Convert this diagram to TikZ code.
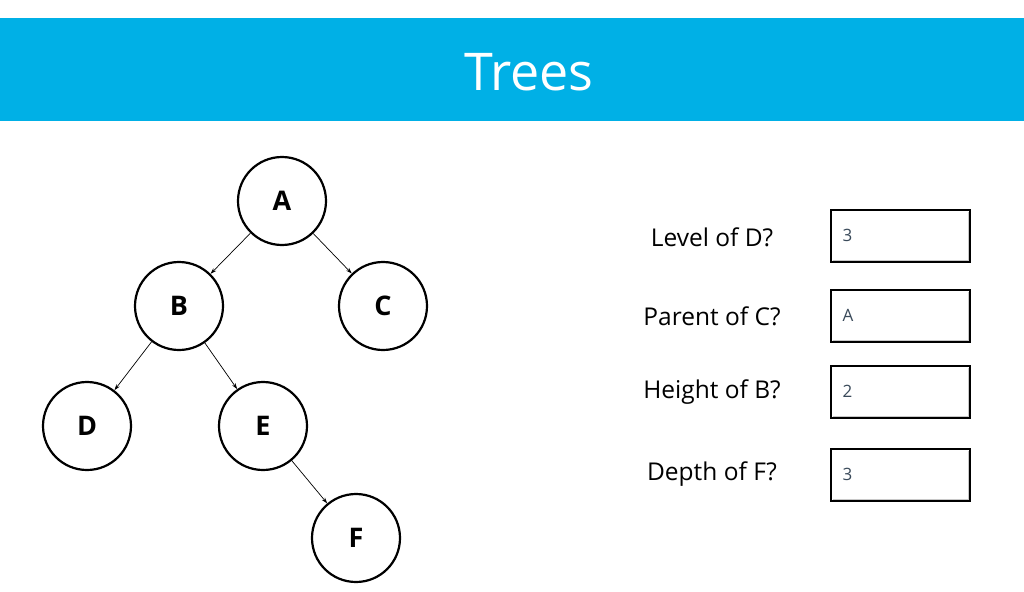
\documentclass[tikz,border=0pt]{standalone}
\usepackage{fontspec}
\setmainfont{Open Sans}
\usetikzlibrary{arrows.meta}
\definecolor{banner}{HTML}{00B0E6}
\definecolor{ansgray}{HTML}{3A4A5A}
\definecolor{insetgray}{HTML}{C8C8C8}
\begin{document}
\begin{tikzpicture}[x=1pt,y=-1pt,
  tnode/.style={circle,draw,line width=2.2pt,minimum size=88pt,inner sep=0pt,font=\fontsize{27}{30}\selectfont\bfseries},
  edge/.style={-{Stealth[length=6pt,width=4pt]},line width=0.7pt},
  qlabel/.style={font=\fontsize{24.5}{28}\selectfont,anchor=center},
  ansbox/.style={draw,line width=1.6pt,minimum width=139pt,minimum height=52pt,inner sep=0pt,anchor=north west},
  anstext/.style={font=\fontsize{17}{20}\selectfont,text=ansgray,anchor=west}]
\useasboundingbox (0,0) rectangle (1024,591);
\fill[white] (0,0) rectangle (1024,591);
\fill[banner] (0,18) rectangle (1024,121);
\node[text=white,font=\fontsize{52}{60}\selectfont] (title) at (529,72) {Trees};
% tree
\node[tnode] (A) at (282,201) {A};
\node[tnode] (B) at (179,306) {B};
\node[tnode] (C) at (383,306) {C};
\node[tnode] (D) at (87,426) {D};
\node[tnode] (E) at (263,426) {E};
\node[tnode] (F) at (356,538) {F};
\draw[edge] (A) -- (B);
\draw[edge] (A) -- (C);
\draw[edge] (B) -- (D);
\draw[edge] (B) -- (E);
\draw[edge] (E) -- (F);
% questions
\node[qlabel] (q1) at (712,237) {Level of D?};
\node[qlabel] (q2) at (712,316) {Parent of C?};
\node[qlabel] (q3) at (712,392) {Height of B?};
\node[qlabel] (q4) at (712,474) {Depth of F?};
\foreach \n/\y in {b1/209,b2/289,b3/365,b4/448}{
  \node[ansbox] (\n) at (830,\y) {};
  \draw[insetgray,line width=1pt] ([shift={(3pt,2.5pt)}]\n.south west) -- ([shift={(-2.5pt,2.5pt)}]\n.south east) -- ([shift={(-2.5pt,-3pt)}]\n.north east);
  \draw[line width=1.2pt] ([shift={(1.6pt,1.6pt)}]\n.south west) -- ([shift={(1.6pt,-1.6pt)}]\n.north west) -- ([shift={(-1.6pt,-1.6pt)}]\n.north east);
}
\node[anstext] (a1) at ([xshift=9pt]b1.west) {3};
\node[anstext] (a2) at ([xshift=9pt]b2.west) {A};
\node[anstext] (a3) at ([xshift=9pt]b3.west) {2};
\node[anstext] (a4) at ([xshift=9pt]b4.west) {3};
\end{tikzpicture}
\end{document}
